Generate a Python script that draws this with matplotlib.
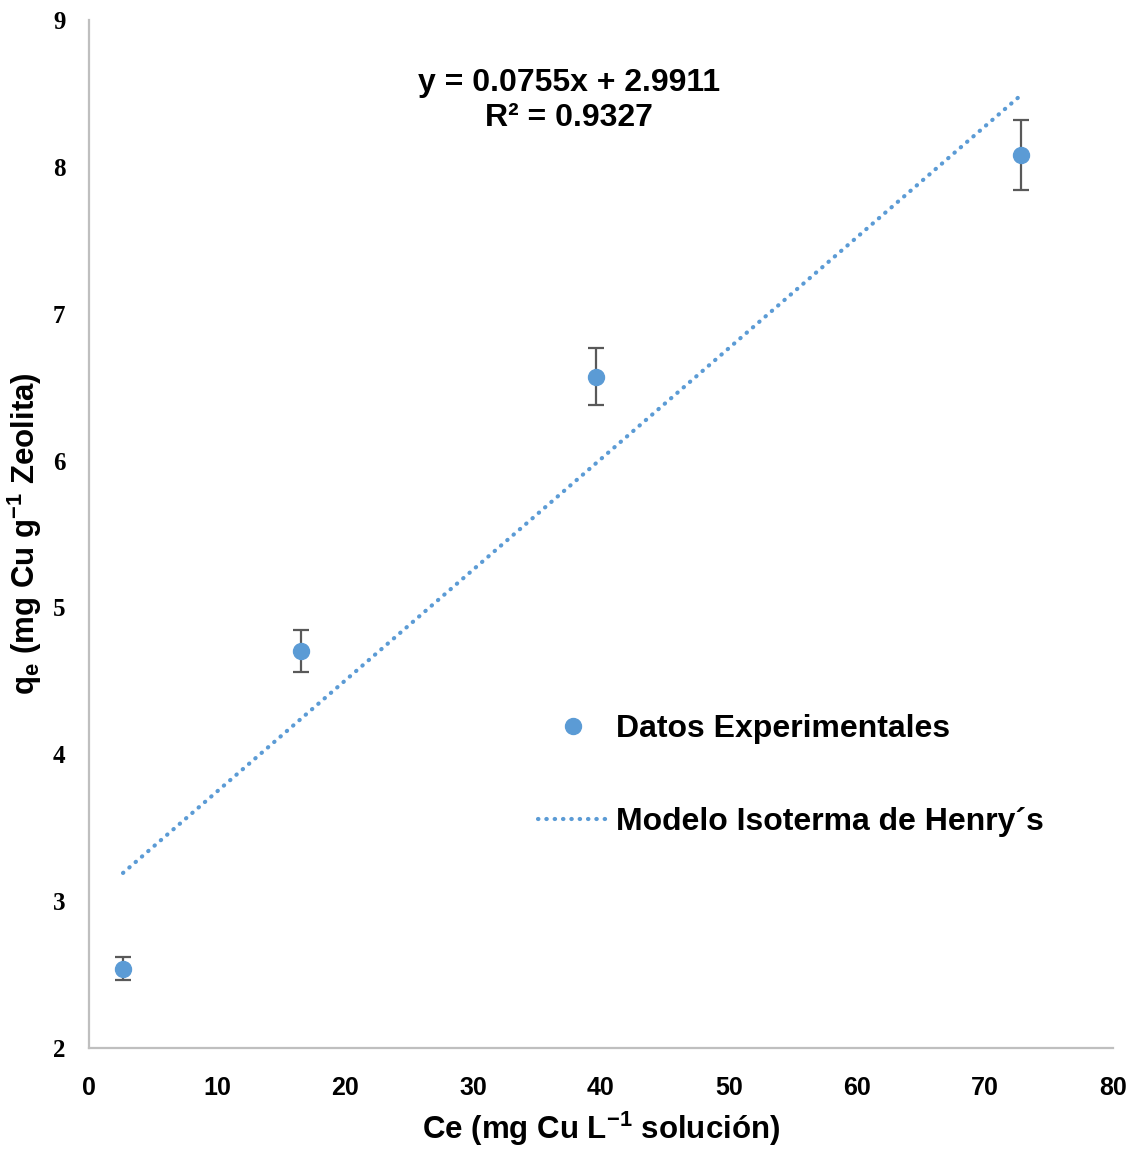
import matplotlib
matplotlib.use("Agg")
import matplotlib.pyplot as plt
import numpy as np

plt.rcParams['font.family'] = ['Liberation Sans', 'DejaVu Sans']
plt.rcParams['mathtext.default'] = 'regular'

# experimental data
ce = [2.66, 16.56, 39.6, 72.8]
qe = [2.54, 4.70, 6.57, 8.08]
qe_err = [0.078, 0.143, 0.194, 0.24]

# linear fit (Henry)
slope = 0.0755
intercept = 2.9911
r2 = 0.9327

blue = '#5B9BD5'
grey = '#BFBFBF'

fig = plt.figure(figsize=(11.42, 11.50), dpi=100)
ax = fig.add_axes([0.0779, 0.0887, 0.8967, 0.8939])

x_fit = np.array([min(ce), max(ce)])
y_fit = slope * x_fit + intercept
ax.plot(x_fit, y_fit, color=blue, lw=3.0, linestyle=(0, (0.1, 1.9)),
        dash_capstyle='round', label='Modelo Isoterma de Henry´s', zorder=2)

ax.errorbar(ce, qe, yerr=qe_err, fmt='none', ecolor='#595959', elinewidth=1.6,
            capsize=6, capthick=1.6, zorder=3)
ax.plot(ce, qe, 'o', color=blue, markersize=11.5, linestyle='none',
        label='Datos Experimentales', zorder=4)

ax.text(0.469, 0.922, f'y = {slope}x + {intercept}\nR² = {r2}', transform=ax.transAxes,
        ha='center', va='center', fontsize=23, fontweight='bold', linespacing=1.22)

ax.set_xlim(0, 80)
ax.set_ylim(2, 9)
ax.set_xticks(range(0, 81, 10))
ax.set_yticks(range(2, 10))
ax.tick_params(length=0)
ax.tick_params(axis='x', pad=20, labelsize=18)
ax.tick_params(axis='y', pad=17, labelsize=18)
for lab in ax.get_xticklabels():
    lab.set_fontweight('bold')
for lab in ax.get_yticklabels():
    lab.set_fontweight('bold')
    lab.set_fontfamily('Liberation Serif')

for side in ['top', 'right']:
    ax.spines[side].set_visible(False)
for side in ['left', 'bottom']:
    ax.spines[side].set_color(grey)
    ax.spines[side].set_linewidth(1.6)

ax.set_xlabel('Ce (mg Cu L$^{-1}$ solución)', fontsize=22.5, fontweight='bold', labelpad=7)
ax.set_ylabel('q$_e$ (mg Cu g$^{-1}$ Zeolita)', fontsize=22.5, fontweight='bold', labelpad=6)

handles, labels = ax.get_legend_handles_labels()
leg = ax.legend(handles[::-1], labels[::-1], loc='center left', bbox_to_anchor=(0.41, 0.265),
                frameon=False, prop={'weight': 'bold', 'size': 23}, handlelength=2.2,
                handletextpad=0.25, labelspacing=1.95)

fig.savefig('out.png', dpi=100)
